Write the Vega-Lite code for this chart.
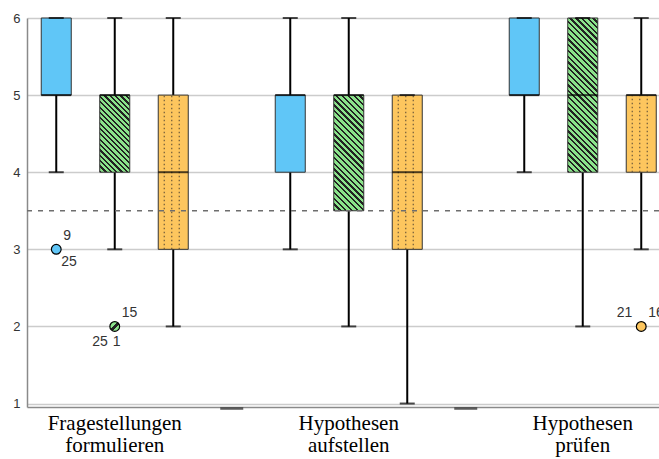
{
  "$schema": "https://vega.github.io/schema/vega-lite/v6.json",
  "width": 632,
  "height": 389,
  "autosize": {"type": "none"},
  "padding": {"left": 27, "top": 18, "right": 0, "bottom": 52},
  "background": "white",
  "config": {
    "view": {"stroke": null},
    "axisY": {"domainColor": "#8a8a8a", "domainWidth": 1.5, "ticks": false, "labelFont": "Liberation Sans", "labelFontSize": 13, "labelColor": "#333333", "labelPadding": 7, "gridColor": "#cccccc", "gridWidth": 1.3},
    "axisX": {"domainColor": "#8a8a8a", "domainWidth": 1.5, "ticks": false, "grid": false, "labelFont": "Liberation Serif", "labelFontSize": 21, "labelColor": "#000000", "labelPadding": 5, "labelLineHeight": 22, "labelAngle": 0, "labelLimit": 0}
  },
  "datasets": {
    "boxen": [
      {"gruppe": "Fragestellungen formulieren", "serie": "Reihe 1", "min": 4, "q1": 5, "median": 5, "q3": 6, "max": 6},
      {"gruppe": "Fragestellungen formulieren", "serie": "Reihe 2", "min": 3, "q1": 4, "median": 5, "q3": 5, "max": 6},
      {"gruppe": "Fragestellungen formulieren", "serie": "Reihe 3", "min": 2, "q1": 3, "median": 4, "q3": 5, "max": 6},
      {"gruppe": "Hypothesen aufstellen", "serie": "Reihe 1", "min": 3, "q1": 4, "median": 5, "q3": 5, "max": 6},
      {"gruppe": "Hypothesen aufstellen", "serie": "Reihe 2", "min": 2, "q1": 3.5, "median": 5, "q3": 5, "max": 6},
      {"gruppe": "Hypothesen aufstellen", "serie": "Reihe 3", "min": 1, "q1": 3, "median": 4, "q3": 5, "max": 5},
      {"gruppe": "Hypothesen prüfen", "serie": "Reihe 1", "min": 4, "q1": 5, "median": 5, "q3": 6, "max": 6},
      {"gruppe": "Hypothesen prüfen", "serie": "Reihe 2", "min": 2, "q1": 4, "median": 5, "q3": 6, "max": 6},
      {"gruppe": "Hypothesen prüfen", "serie": "Reihe 3", "min": 3, "q1": 4, "median": 5, "q3": 5, "max": 6}
    ],
    "ausreisser": [
      {"gruppe": "Fragestellungen formulieren", "serie": "Reihe 1", "wert": 3},
      {"gruppe": "Fragestellungen formulieren", "serie": "Reihe 2", "wert": 2},
      {"gruppe": "Hypothesen prüfen", "serie": "Reihe 3", "wert": 2}
    ],
    "beschriftung": [
      {"gruppe": "Fragestellungen formulieren", "serie": "Reihe 1", "wert": 3, "label": "9", "lage": "or"},
      {"gruppe": "Fragestellungen formulieren", "serie": "Reihe 1", "wert": 3, "label": "25", "lage": "ur"},
      {"gruppe": "Fragestellungen formulieren", "serie": "Reihe 2", "wert": 2, "label": "15", "lage": "or"},
      {"gruppe": "Fragestellungen formulieren", "serie": "Reihe 2", "wert": 2, "label": "25", "lage": "ul"},
      {"gruppe": "Fragestellungen formulieren", "serie": "Reihe 2", "wert": 2, "label": "1", "lage": "u"},
      {"gruppe": "Hypothesen prüfen", "serie": "Reihe 3", "wert": 2, "label": "21", "lage": "ol"},
      {"gruppe": "Hypothesen prüfen", "serie": "Reihe 3", "wert": 2, "label": "16", "lage": "or"}
    ],
    "luecken": [
      {"gruppe": "Fragestellungen formulieren", "wert": 0.935},
      {"gruppe": "Hypothesen aufstellen", "wert": 0.935}
    ],
    "referenz": [{"wert": 3.5}]
  },
  "layer": [
    {
      "data": {"name": "boxen"},
      "mark": {"type": "rule", "color": "#000000", "strokeWidth": 2},
      "encoding": {
        "x": {"field": "gruppe", "type": "nominal", "title": null, "scale": {"type": "band", "domain": ["Fragestellungen formulieren", "Hypothesen aufstellen", "Hypothesen prüfen"], "range": [0, 643.5], "paddingInner": 0.25, "paddingOuter": 0}, "axis": {"labelExpr": "split(datum.label, ' ')"}},
        "xOffset": {"field": "serie", "type": "nominal", "scale": {"domain": ["Reihe 1", "Reihe 2", "Reihe 3"], "paddingInner": 0.487, "paddingOuter": 0.2436}},
        "y": {"field": "min", "type": "quantitative", "title": null, "scale": {"domain": [0.955, 6], "nice": false, "zero": false}, "axis": {"values": [1, 2, 3, 4, 5, 6], "grid": true, "format": "d"}},
        "y2": {"field": "max"}
      }
    },
    {
      "data": {"name": "boxen"},
      "transform": [{"filter": "datum.serie != 'Reihe 2'"}],
      "mark": {"type": "bar", "stroke": "#333333", "strokeWidth": 1},
      "encoding": {
        "x": {"field": "gruppe", "type": "nominal", "title": null},
        "xOffset": {"field": "serie", "type": "nominal"},
        "y": {"field": "q1", "type": "quantitative", "title": null},
        "y2": {"field": "q3"},
        "color": {"field": "serie", "type": "nominal", "legend": null, "scale": {"domain": ["Reihe 1", "Reihe 2", "Reihe 3"], "range": ["#60c6f7", "#8be38b", "#fdc65e"]}}
      }
    },
    {
      "data": {"name": "boxen"},
      "transform": [{"filter": "datum.serie == 'Reihe 2' && datum.gruppe == 'Fragestellungen formulieren'"}],
      "mark": {"type": "bar", "stroke": "#333333", "strokeWidth": 1, "fill": {"gradient": "linear", "x1": 0, "y1": 1, "x2": 0.4694, "y2": -0.2064, "stops": [
        {"offset": 0, "color": "#222222"}, {"offset": 0.02, "color": "#222222"}, {"offset": 0.02, "color": "#8be38b"}, {"offset": 0.05, "color": "#8be38b"},
        {"offset": 0.05, "color": "#222222"}, {"offset": 0.07, "color": "#222222"}, {"offset": 0.07, "color": "#8be38b"}, {"offset": 0.1, "color": "#8be38b"},
        {"offset": 0.1, "color": "#222222"}, {"offset": 0.12, "color": "#222222"}, {"offset": 0.12, "color": "#8be38b"}, {"offset": 0.15, "color": "#8be38b"},
        {"offset": 0.15, "color": "#222222"}, {"offset": 0.17, "color": "#222222"}, {"offset": 0.17, "color": "#8be38b"}, {"offset": 0.2, "color": "#8be38b"},
        {"offset": 0.2, "color": "#222222"}, {"offset": 0.22, "color": "#222222"}, {"offset": 0.22, "color": "#8be38b"}, {"offset": 0.25, "color": "#8be38b"},
        {"offset": 0.25, "color": "#222222"}, {"offset": 0.27, "color": "#222222"}, {"offset": 0.27, "color": "#8be38b"}, {"offset": 0.3, "color": "#8be38b"},
        {"offset": 0.3, "color": "#222222"}, {"offset": 0.32, "color": "#222222"}, {"offset": 0.32, "color": "#8be38b"}, {"offset": 0.35, "color": "#8be38b"},
        {"offset": 0.35, "color": "#222222"}, {"offset": 0.37, "color": "#222222"}, {"offset": 0.37, "color": "#8be38b"}, {"offset": 0.4, "color": "#8be38b"},
        {"offset": 0.4, "color": "#222222"}, {"offset": 0.42, "color": "#222222"}, {"offset": 0.42, "color": "#8be38b"}, {"offset": 0.45, "color": "#8be38b"},
        {"offset": 0.45, "color": "#222222"}, {"offset": 0.47, "color": "#222222"}, {"offset": 0.47, "color": "#8be38b"}, {"offset": 0.5, "color": "#8be38b"},
        {"offset": 0.5, "color": "#222222"}, {"offset": 0.52, "color": "#222222"}, {"offset": 0.52, "color": "#8be38b"}, {"offset": 0.55, "color": "#8be38b"},
        {"offset": 0.55, "color": "#222222"}, {"offset": 0.57, "color": "#222222"}, {"offset": 0.57, "color": "#8be38b"}, {"offset": 0.6, "color": "#8be38b"},
        {"offset": 0.6, "color": "#222222"}, {"offset": 0.62, "color": "#222222"}, {"offset": 0.62, "color": "#8be38b"}, {"offset": 0.65, "color": "#8be38b"},
        {"offset": 0.65, "color": "#222222"}, {"offset": 0.67, "color": "#222222"}, {"offset": 0.67, "color": "#8be38b"}, {"offset": 0.7, "color": "#8be38b"},
        {"offset": 0.7, "color": "#222222"}, {"offset": 0.72, "color": "#222222"}, {"offset": 0.72, "color": "#8be38b"}, {"offset": 0.75, "color": "#8be38b"},
        {"offset": 0.75, "color": "#222222"}, {"offset": 0.77, "color": "#222222"}, {"offset": 0.77, "color": "#8be38b"}, {"offset": 0.8, "color": "#8be38b"},
        {"offset": 0.8, "color": "#222222"}, {"offset": 0.82, "color": "#222222"}, {"offset": 0.82, "color": "#8be38b"}, {"offset": 0.85, "color": "#8be38b"},
        {"offset": 0.85, "color": "#222222"}, {"offset": 0.87, "color": "#222222"}, {"offset": 0.87, "color": "#8be38b"}, {"offset": 0.9, "color": "#8be38b"},
        {"offset": 0.9, "color": "#222222"}, {"offset": 0.92, "color": "#222222"}, {"offset": 0.92, "color": "#8be38b"}, {"offset": 0.95, "color": "#8be38b"},
        {"offset": 0.95, "color": "#222222"}, {"offset": 0.97, "color": "#222222"}, {"offset": 0.97, "color": "#8be38b"}, {"offset": 1, "color": "#8be38b"}
      ]}},
      "encoding": {
        "x": {"field": "gruppe", "type": "nominal", "title": null},
        "xOffset": {"field": "serie", "type": "nominal"},
        "y": {"field": "q1", "type": "quantitative", "title": null},
        "y2": {"field": "q3"}
      }
    },
    {
      "data": {"name": "boxen"},
      "transform": [{"filter": "datum.serie == 'Reihe 2' && datum.gruppe == 'Hypothesen aufstellen'"}],
      "mark": {"type": "bar", "stroke": "#333333", "strokeWidth": 1, "fill": {"gradient": "linear", "x1": 0, "y1": 1, "x2": 0.306, "y2": -0.1801, "stops": [
        {"offset": 0, "color": "#222222"}, {"offset": 0.016, "color": "#222222"}, {"offset": 0.016, "color": "#8be38b"}, {"offset": 0.04, "color": "#8be38b"},
        {"offset": 0.04, "color": "#222222"}, {"offset": 0.056, "color": "#222222"}, {"offset": 0.056, "color": "#8be38b"}, {"offset": 0.08, "color": "#8be38b"},
        {"offset": 0.08, "color": "#222222"}, {"offset": 0.096, "color": "#222222"}, {"offset": 0.096, "color": "#8be38b"}, {"offset": 0.12, "color": "#8be38b"},
        {"offset": 0.12, "color": "#222222"}, {"offset": 0.136, "color": "#222222"}, {"offset": 0.136, "color": "#8be38b"}, {"offset": 0.16, "color": "#8be38b"},
        {"offset": 0.16, "color": "#222222"}, {"offset": 0.176, "color": "#222222"}, {"offset": 0.176, "color": "#8be38b"}, {"offset": 0.2, "color": "#8be38b"},
        {"offset": 0.2, "color": "#222222"}, {"offset": 0.216, "color": "#222222"}, {"offset": 0.216, "color": "#8be38b"}, {"offset": 0.24, "color": "#8be38b"},
        {"offset": 0.24, "color": "#222222"}, {"offset": 0.256, "color": "#222222"}, {"offset": 0.256, "color": "#8be38b"}, {"offset": 0.28, "color": "#8be38b"},
        {"offset": 0.28, "color": "#222222"}, {"offset": 0.296, "color": "#222222"}, {"offset": 0.296, "color": "#8be38b"}, {"offset": 0.32, "color": "#8be38b"},
        {"offset": 0.32, "color": "#222222"}, {"offset": 0.336, "color": "#222222"}, {"offset": 0.336, "color": "#8be38b"}, {"offset": 0.36, "color": "#8be38b"},
        {"offset": 0.36, "color": "#222222"}, {"offset": 0.376, "color": "#222222"}, {"offset": 0.376, "color": "#8be38b"}, {"offset": 0.4, "color": "#8be38b"},
        {"offset": 0.4, "color": "#222222"}, {"offset": 0.416, "color": "#222222"}, {"offset": 0.416, "color": "#8be38b"}, {"offset": 0.44, "color": "#8be38b"},
        {"offset": 0.44, "color": "#222222"}, {"offset": 0.456, "color": "#222222"}, {"offset": 0.456, "color": "#8be38b"}, {"offset": 0.48, "color": "#8be38b"},
        {"offset": 0.48, "color": "#222222"}, {"offset": 0.496, "color": "#222222"}, {"offset": 0.496, "color": "#8be38b"}, {"offset": 0.52, "color": "#8be38b"},
        {"offset": 0.52, "color": "#222222"}, {"offset": 0.536, "color": "#222222"}, {"offset": 0.536, "color": "#8be38b"}, {"offset": 0.56, "color": "#8be38b"},
        {"offset": 0.56, "color": "#222222"}, {"offset": 0.576, "color": "#222222"}, {"offset": 0.576, "color": "#8be38b"}, {"offset": 0.6, "color": "#8be38b"},
        {"offset": 0.6, "color": "#222222"}, {"offset": 0.616, "color": "#222222"}, {"offset": 0.616, "color": "#8be38b"}, {"offset": 0.64, "color": "#8be38b"},
        {"offset": 0.64, "color": "#222222"}, {"offset": 0.656, "color": "#222222"}, {"offset": 0.656, "color": "#8be38b"}, {"offset": 0.68, "color": "#8be38b"},
        {"offset": 0.68, "color": "#222222"}, {"offset": 0.696, "color": "#222222"}, {"offset": 0.696, "color": "#8be38b"}, {"offset": 0.72, "color": "#8be38b"},
        {"offset": 0.72, "color": "#222222"}, {"offset": 0.736, "color": "#222222"}, {"offset": 0.736, "color": "#8be38b"}, {"offset": 0.76, "color": "#8be38b"},
        {"offset": 0.76, "color": "#222222"}, {"offset": 0.776, "color": "#222222"}, {"offset": 0.776, "color": "#8be38b"}, {"offset": 0.8, "color": "#8be38b"},
        {"offset": 0.8, "color": "#222222"}, {"offset": 0.816, "color": "#222222"}, {"offset": 0.816, "color": "#8be38b"}, {"offset": 0.84, "color": "#8be38b"},
        {"offset": 0.84, "color": "#222222"}, {"offset": 0.856, "color": "#222222"}, {"offset": 0.856, "color": "#8be38b"}, {"offset": 0.88, "color": "#8be38b"},
        {"offset": 0.88, "color": "#222222"}, {"offset": 0.896, "color": "#222222"}, {"offset": 0.896, "color": "#8be38b"}, {"offset": 0.92, "color": "#8be38b"},
        {"offset": 0.92, "color": "#222222"}, {"offset": 0.936, "color": "#222222"}, {"offset": 0.936, "color": "#8be38b"}, {"offset": 0.96, "color": "#8be38b"},
        {"offset": 0.96, "color": "#222222"}, {"offset": 0.976, "color": "#222222"}, {"offset": 0.976, "color": "#8be38b"}, {"offset": 1, "color": "#8be38b"}
      ]}},
      "encoding": {
        "x": {"field": "gruppe", "type": "nominal", "title": null},
        "xOffset": {"field": "serie", "type": "nominal"},
        "y": {"field": "q1", "type": "quantitative", "title": null},
        "y2": {"field": "q3"}
      }
    },
    {
      "data": {"name": "boxen"},
      "transform": [{"filter": "datum.serie == 'Reihe 2' && datum.gruppe == 'Hypothesen prüfen'"}],
      "mark": {"type": "bar", "stroke": "#333333", "strokeWidth": 1, "fill": {"gradient": "linear", "x1": 0, "y1": 1, "x2": 0.2239, "y2": -0.1509, "stops": [
        {"offset": 0, "color": "#222222"}, {"offset": 0.0125, "color": "#222222"}, {"offset": 0.0125, "color": "#8be38b"}, {"offset": 0.03125, "color": "#8be38b"},
        {"offset": 0.03125, "color": "#222222"}, {"offset": 0.04375, "color": "#222222"}, {"offset": 0.04375, "color": "#8be38b"}, {"offset": 0.0625, "color": "#8be38b"},
        {"offset": 0.0625, "color": "#222222"}, {"offset": 0.075, "color": "#222222"}, {"offset": 0.075, "color": "#8be38b"}, {"offset": 0.09375, "color": "#8be38b"},
        {"offset": 0.09375, "color": "#222222"}, {"offset": 0.10625, "color": "#222222"}, {"offset": 0.10625, "color": "#8be38b"}, {"offset": 0.125, "color": "#8be38b"},
        {"offset": 0.125, "color": "#222222"}, {"offset": 0.1375, "color": "#222222"}, {"offset": 0.1375, "color": "#8be38b"}, {"offset": 0.15625, "color": "#8be38b"},
        {"offset": 0.15625, "color": "#222222"}, {"offset": 0.16875, "color": "#222222"}, {"offset": 0.16875, "color": "#8be38b"}, {"offset": 0.1875, "color": "#8be38b"},
        {"offset": 0.1875, "color": "#222222"}, {"offset": 0.2, "color": "#222222"}, {"offset": 0.2, "color": "#8be38b"}, {"offset": 0.21875, "color": "#8be38b"},
        {"offset": 0.21875, "color": "#222222"}, {"offset": 0.23125, "color": "#222222"}, {"offset": 0.23125, "color": "#8be38b"}, {"offset": 0.25, "color": "#8be38b"},
        {"offset": 0.25, "color": "#222222"}, {"offset": 0.2625, "color": "#222222"}, {"offset": 0.2625, "color": "#8be38b"}, {"offset": 0.28125, "color": "#8be38b"},
        {"offset": 0.28125, "color": "#222222"}, {"offset": 0.29375, "color": "#222222"}, {"offset": 0.29375, "color": "#8be38b"}, {"offset": 0.3125, "color": "#8be38b"},
        {"offset": 0.3125, "color": "#222222"}, {"offset": 0.325, "color": "#222222"}, {"offset": 0.325, "color": "#8be38b"}, {"offset": 0.34375, "color": "#8be38b"},
        {"offset": 0.34375, "color": "#222222"}, {"offset": 0.35625, "color": "#222222"}, {"offset": 0.35625, "color": "#8be38b"}, {"offset": 0.375, "color": "#8be38b"},
        {"offset": 0.375, "color": "#222222"}, {"offset": 0.3875, "color": "#222222"}, {"offset": 0.3875, "color": "#8be38b"}, {"offset": 0.40625, "color": "#8be38b"},
        {"offset": 0.40625, "color": "#222222"}, {"offset": 0.41875, "color": "#222222"}, {"offset": 0.41875, "color": "#8be38b"}, {"offset": 0.4375, "color": "#8be38b"},
        {"offset": 0.4375, "color": "#222222"}, {"offset": 0.45, "color": "#222222"}, {"offset": 0.45, "color": "#8be38b"}, {"offset": 0.46875, "color": "#8be38b"},
        {"offset": 0.46875, "color": "#222222"}, {"offset": 0.48125, "color": "#222222"}, {"offset": 0.48125, "color": "#8be38b"}, {"offset": 0.5, "color": "#8be38b"},
        {"offset": 0.5, "color": "#222222"}, {"offset": 0.5125, "color": "#222222"}, {"offset": 0.5125, "color": "#8be38b"}, {"offset": 0.53125, "color": "#8be38b"},
        {"offset": 0.53125, "color": "#222222"}, {"offset": 0.54375, "color": "#222222"}, {"offset": 0.54375, "color": "#8be38b"}, {"offset": 0.5625, "color": "#8be38b"},
        {"offset": 0.5625, "color": "#222222"}, {"offset": 0.575, "color": "#222222"}, {"offset": 0.575, "color": "#8be38b"}, {"offset": 0.59375, "color": "#8be38b"},
        {"offset": 0.59375, "color": "#222222"}, {"offset": 0.60625, "color": "#222222"}, {"offset": 0.60625, "color": "#8be38b"}, {"offset": 0.625, "color": "#8be38b"},
        {"offset": 0.625, "color": "#222222"}, {"offset": 0.6375, "color": "#222222"}, {"offset": 0.6375, "color": "#8be38b"}, {"offset": 0.65625, "color": "#8be38b"},
        {"offset": 0.65625, "color": "#222222"}, {"offset": 0.66875, "color": "#222222"}, {"offset": 0.66875, "color": "#8be38b"}, {"offset": 0.6875, "color": "#8be38b"},
        {"offset": 0.6875, "color": "#222222"}, {"offset": 0.7, "color": "#222222"}, {"offset": 0.7, "color": "#8be38b"}, {"offset": 0.71875, "color": "#8be38b"},
        {"offset": 0.71875, "color": "#222222"}, {"offset": 0.73125, "color": "#222222"}, {"offset": 0.73125, "color": "#8be38b"}, {"offset": 0.75, "color": "#8be38b"},
        {"offset": 0.75, "color": "#222222"}, {"offset": 0.7625, "color": "#222222"}, {"offset": 0.7625, "color": "#8be38b"}, {"offset": 0.78125, "color": "#8be38b"},
        {"offset": 0.78125, "color": "#222222"}, {"offset": 0.79375, "color": "#222222"}, {"offset": 0.79375, "color": "#8be38b"}, {"offset": 0.8125, "color": "#8be38b"},
        {"offset": 0.8125, "color": "#222222"}, {"offset": 0.825, "color": "#222222"}, {"offset": 0.825, "color": "#8be38b"}, {"offset": 0.84375, "color": "#8be38b"},
        {"offset": 0.84375, "color": "#222222"}, {"offset": 0.85625, "color": "#222222"}, {"offset": 0.85625, "color": "#8be38b"}, {"offset": 0.875, "color": "#8be38b"},
        {"offset": 0.875, "color": "#222222"}, {"offset": 0.8875, "color": "#222222"}, {"offset": 0.8875, "color": "#8be38b"}, {"offset": 0.90625, "color": "#8be38b"},
        {"offset": 0.90625, "color": "#222222"}, {"offset": 0.91875, "color": "#222222"}, {"offset": 0.91875, "color": "#8be38b"}, {"offset": 0.9375, "color": "#8be38b"},
        {"offset": 0.9375, "color": "#222222"}, {"offset": 0.95, "color": "#222222"}, {"offset": 0.95, "color": "#8be38b"}, {"offset": 0.96875, "color": "#8be38b"},
        {"offset": 0.96875, "color": "#222222"}, {"offset": 0.98125, "color": "#222222"}, {"offset": 0.98125, "color": "#8be38b"}, {"offset": 1, "color": "#8be38b"}
      ]}},
      "encoding": {
        "x": {"field": "gruppe", "type": "nominal", "title": null},
        "xOffset": {"field": "serie", "type": "nominal"},
        "y": {"field": "q1", "type": "quantitative", "title": null},
        "y2": {"field": "q3"}
      }
    },
    {
      "data": {"name": "boxen"},
      "transform": [{"filter": "datum.serie == 'Reihe 3'"}],
      "mark": {"type": "rule", "xOffset": 49.5, "color": "#6e5a3a", "strokeWidth": 1.2, "strokeDash": [1.5, 2.5]},
      "encoding": {
        "x": {"field": "gruppe", "type": "nominal", "title": null},
        "y": {"field": "q1", "type": "quantitative", "title": null},
        "y2": {"field": "q3"}
      }
    },
    {
      "data": {"name": "boxen"},
      "transform": [{"filter": "datum.serie == 'Reihe 3'"}],
      "mark": {"type": "rule", "xOffset": 57, "color": "#6e5a3a", "strokeWidth": 1.2, "strokeDash": [1.5, 2.5]},
      "encoding": {
        "x": {"field": "gruppe", "type": "nominal", "title": null},
        "y": {"field": "q1", "type": "quantitative", "title": null},
        "y2": {"field": "q3"}
      }
    },
    {
      "data": {"name": "boxen"},
      "transform": [{"filter": "datum.serie == 'Reihe 3'"}],
      "mark": {"type": "rule", "xOffset": 64.5, "color": "#6e5a3a", "strokeWidth": 1.2, "strokeDash": [1.5, 2.5]},
      "encoding": {
        "x": {"field": "gruppe", "type": "nominal", "title": null},
        "y": {"field": "q1", "type": "quantitative", "title": null},
        "y2": {"field": "q3"}
      }
    },
    {
      "data": {"name": "boxen"},
      "mark": {"type": "tick", "color": "#000000", "thickness": 2, "size": 30},
      "encoding": {
        "x": {"field": "gruppe", "type": "nominal", "title": null},
        "xOffset": {"field": "serie", "type": "nominal"},
        "y": {"field": "median", "type": "quantitative", "title": null}
      }
    },
    {
      "data": {"name": "boxen"},
      "mark": {"type": "tick", "color": "#000000", "thickness": 2, "size": 15},
      "encoding": {
        "x": {"field": "gruppe", "type": "nominal", "title": null},
        "xOffset": {"field": "serie", "type": "nominal"},
        "y": {"field": "min", "type": "quantitative", "title": null}
      }
    },
    {
      "data": {"name": "boxen"},
      "mark": {"type": "tick", "color": "#000000", "thickness": 2, "size": 15},
      "encoding": {
        "x": {"field": "gruppe", "type": "nominal", "title": null},
        "xOffset": {"field": "serie", "type": "nominal"},
        "y": {"field": "max", "type": "quantitative", "title": null}
      }
    },
    {
      "data": {"name": "referenz"},
      "mark": {"type": "rule", "color": "#6e6e6e", "strokeWidth": 1.5, "strokeDash": [5, 6]},
      "encoding": {
        "y": {"field": "wert", "type": "quantitative", "title": null}
      }
    },
    {
      "data": {"name": "luecken"},
      "mark": {"type": "tick", "xOffset": 117, "color": "#222222", "thickness": 2.5, "size": 23},
      "encoding": {
        "x": {"field": "gruppe", "type": "nominal", "title": null},
        "y": {"field": "wert", "type": "quantitative", "title": null}
      }
    },
    {
      "data": {"name": "ausreisser"},
      "transform": [{"filter": "datum.serie != 'Reihe 2'"}],
      "mark": {"type": "point", "filled": true, "size": 95, "stroke": "#000000", "strokeWidth": 1.2, "opacity": 1},
      "encoding": {
        "x": {"field": "gruppe", "type": "nominal", "title": null},
        "xOffset": {"field": "serie", "type": "nominal"},
        "y": {"field": "wert", "type": "quantitative", "title": null},
        "color": {"field": "serie", "type": "nominal", "legend": null}
      }
    },
    {
      "data": {"name": "ausreisser"},
      "transform": [{"filter": "datum.serie == 'Reihe 2'"}],
      "mark": {"type": "point", "filled": true, "size": 95, "stroke": "#000000", "strokeWidth": 1.2, "opacity": 1, "fill": {"gradient": "linear", "x1": 0, "y1": 0, "x2": 1, "y2": 1, "stops": [
        {"offset": 0, "color": "#8be38b"}, {"offset": 0.4, "color": "#8be38b"}, {"offset": 0.4, "color": "#222222"}, {"offset": 0.6, "color": "#222222"}, {"offset": 0.6, "color": "#8be38b"}, {"offset": 1, "color": "#8be38b"}
      ]}},
      "encoding": {
        "x": {"field": "gruppe", "type": "nominal", "title": null},
        "xOffset": {"field": "serie", "type": "nominal"},
        "y": {"field": "wert", "type": "quantitative", "title": null}
      }
    },
    {
      "data": {"name": "beschriftung"},
      "transform": [{"filter": "datum.lage == 'or'"}],
      "mark": {"type": "text", "font": "Liberation Sans", "fontSize": 14, "color": "#333333", "align": "left", "baseline": "middle", "dx": 7, "dy": -13},
      "encoding": {
        "x": {"field": "gruppe", "type": "nominal", "title": null},
        "xOffset": {"field": "serie", "type": "nominal"},
        "y": {"field": "wert", "type": "quantitative", "title": null},
        "text": {"field": "label"}
      }
    },
    {
      "data": {"name": "beschriftung"},
      "transform": [{"filter": "datum.lage == 'ur'"}],
      "mark": {"type": "text", "font": "Liberation Sans", "fontSize": 14, "color": "#333333", "align": "left", "baseline": "middle", "dx": 5, "dy": 13},
      "encoding": {
        "x": {"field": "gruppe", "type": "nominal", "title": null},
        "xOffset": {"field": "serie", "type": "nominal"},
        "y": {"field": "wert", "type": "quantitative", "title": null},
        "text": {"field": "label"}
      }
    },
    {
      "data": {"name": "beschriftung"},
      "transform": [{"filter": "datum.lage == 'ul'"}],
      "mark": {"type": "text", "font": "Liberation Sans", "fontSize": 14, "color": "#333333", "align": "right", "baseline": "middle", "dx": -7, "dy": 16},
      "encoding": {
        "x": {"field": "gruppe", "type": "nominal", "title": null},
        "xOffset": {"field": "serie", "type": "nominal"},
        "y": {"field": "wert", "type": "quantitative", "title": null},
        "text": {"field": "label"}
      }
    },
    {
      "data": {"name": "beschriftung"},
      "transform": [{"filter": "datum.lage == 'u'"}],
      "mark": {"type": "text", "font": "Liberation Sans", "fontSize": 14, "color": "#333333", "align": "left", "baseline": "middle", "dx": -2, "dy": 16},
      "encoding": {
        "x": {"field": "gruppe", "type": "nominal", "title": null},
        "xOffset": {"field": "serie", "type": "nominal"},
        "y": {"field": "wert", "type": "quantitative", "title": null},
        "text": {"field": "label"}
      }
    },
    {
      "data": {"name": "beschriftung"},
      "transform": [{"filter": "datum.lage == 'ol'"}],
      "mark": {"type": "text", "font": "Liberation Sans", "fontSize": 14, "color": "#333333", "align": "right", "baseline": "middle", "dx": -9, "dy": -13},
      "encoding": {
        "x": {"field": "gruppe", "type": "nominal", "title": null},
        "xOffset": {"field": "serie", "type": "nominal"},
        "y": {"field": "wert", "type": "quantitative", "title": null},
        "text": {"field": "label"}
      }
    }
  ]
}
